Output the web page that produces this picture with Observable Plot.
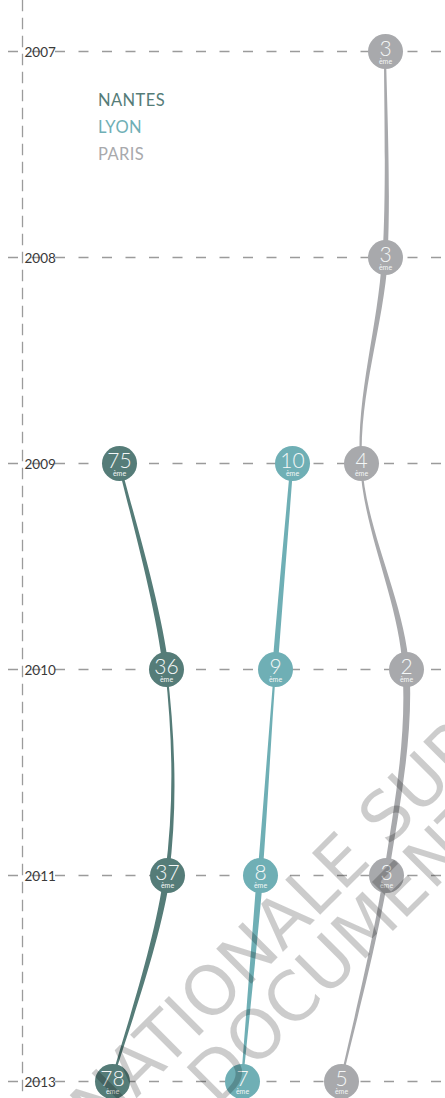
<!DOCTYPE html>
<html><head><meta charset="utf-8">
<script src="https://cdn.jsdelivr.net/npm/d3@7"></script>
<script src="https://cdn.jsdelivr.net/npm/@observablehq/plot@0.6"></script>
<style>
body{margin:0;background:#fff;}
#wrap{position:relative;width:445px;height:1098px;overflow:hidden;font-family:Lato,"Open Sans",sans-serif;}
#legend{position:absolute;left:98px;top:87px;font-size:16.5px;line-height:27px;font-weight:400;letter-spacing:0.4px;}
#wm{position:absolute;left:0;top:0;pointer-events:none;}
</style></head>
<body><div id="wrap"><div id="chart"></div><div id="legend"></div>
<svg id="wm" width="445" height="1098">
  <g font-family="DejaVu Sans, sans-serif" font-size="68" fill="rgba(0,0,0,0.2)">
    <text transform="translate(100,1135) rotate(-45)">NATIONALE SUR</text>
    <text transform="translate(217,1107) rotate(-45)">DOCUMENT</text>
  </g>
</svg>
</div>
<script>
// ---- data ----
const years = ["2007", "2008", "2009", "2010", "2011", "2013"];
const cities = ["NANTES", "LYON", "PARIS"];
const cityColors = ["#557c78", "#6fafb5", "#a8a9ac"];

const nantesYears = ["2009", "2010", "2011", "2013"];
const nantesRanks = [75, 36, 37, 78];
const nantesX = [119, 166, 167, 112];
const nantesWidths = [[2.5, 6], [2, 4], [6.5, 2]];

const lyonYears = ["2009", "2010", "2011", "2013"];
const lyonRanks = [10, 9, 8, 7];
const lyonX = [292, 275, 260, 242];
const lyonWidths = [[3, 5.5], [2, 5], [6.5, 2]];

const parisYears = ["2007", "2008", "2009", "2010", "2011", "2013"];
const parisRanks = [3, 3, 4, 2, 3, 5];
const parisX = [385, 385, 361, 406, 386, 341];
const parisWidths = [[2, 5], [6, 2], [2, 6.5], [7, 5], [5, 2]];

// ---- build tables ----
const series = [
  {city: "NANTES", years: nantesYears, ranks: nantesRanks, xs: nantesX, widths: nantesWidths},
  {city: "LYON", years: lyonYears, ranks: lyonRanks, xs: lyonX, widths: lyonWidths},
  {city: "PARIS", years: parisYears, ranks: parisRanks, xs: parisX, widths: parisWidths}
];
const colorOf = c => cityColors[cities.indexOf(c)];

// custom curve: draws only the middle span of a 4-point Catmull-Rom (uniform) spline
function spanCurve(context) {
  return {
    _line: NaN, _pts: [],
    areaStart() { this._line = 0; },
    areaEnd() { this._line = NaN; },
    lineStart() { this._pts = []; },
    point(x, y) { this._pts.push([x, y]); },
    lineEnd() {
      const p = this._pts;
      if (p.length >= 4) {
        const [p0, p1, p2, p3] = p;
        if (this._line) context.lineTo(p1[0], p1[1]); else context.moveTo(p1[0], p1[1]);
        context.bezierCurveTo(
          p1[0] + (p2[0] - p0[0]) / 6, p1[1] + (p2[1] - p0[1]) / 6,
          p2[0] - (p3[0] - p1[0]) / 6, p2[1] - (p3[1] - p1[1]) / 6,
          p2[0], p2[1]);
      }
      if (this._line === 1) context.closePath();
      this._line = 1 - this._line;
    }
  };
}

const marks = [];
marks.push(Plot.ruleY(years, {y: d => d, stroke: "#9b9b9b", strokeWidth: 1.3, strokeDasharray: "10,13.5", strokeDashoffset: 15.5, insetLeft: -22}));
marks.push(Plot.frame({anchor: "left", stroke: "#9b9b9b", strokeWidth: 1.3, strokeDasharray: "10,8"}));

for (const s of series) {
  const n = s.years.length;
  const rows = [];
  for (let i = 0; i < n - 1; i++) {
    const [w0, w1] = s.widths[i];
    const idx = [Math.max(i - 1, 0), i, i + 1, Math.min(i + 2, n - 1)];
    const ws = [w0, w0, w1, w1];
    idx.forEach((k, j) => rows.push({seg: i, year: s.years[k], xl: s.xs[k] - ws[j] / 2, xr: s.xs[k] + ws[j] / 2}));
  }
  marks.push(Plot.areaX(rows, {y: "year", x1: "xl", x2: "xr", z: "seg", fill: colorOf(s.city), curve: spanCurve}));
}
for (const s of series) {
  const pts = s.years.map((y, i) => ({year: y, rank: s.ranks[i], x: s.xs[i]}));
  marks.push(Plot.dot(pts, {x: "x", y: "year", r: 17.5, fill: colorOf(s.city)}));
  marks.push(Plot.text(pts, {x: "x", y: "year", text: d => String(d.rank), fill: "#f4f7f7", fontSize: 21, fontWeight: 300, dy: -2}));
  marks.push(Plot.text(pts, {x: "x", y: "year", text: () => "ème", fill: "#f4f7f7", fontSize: 7, dy: 10.5}));
}
marks.push(Plot.text(years, {y: d => d, frameAnchor: "left", textAnchor: "start", dx: 2, dy: 1.5, fontSize: 13.5, fill: "#3a3a3a", fontWeight: 400}));

const chart = Plot.plot({
  width: 445, height: 1098,
  marginLeft: 22, marginRight: 0, marginTop: 0, marginBottom: 0,
  x: {domain: [22, 445], axis: null},
  y: {type: "point", domain: years, range: [49.5, 1082.5], padding: 0, axis: null},
  style: {fontFamily: "Lato, 'Open Sans', sans-serif", background: "transparent", overflow: "visible"},
  marks
});
document.getElementById("chart").appendChild(chart);

const legend = document.getElementById("legend");
cities.forEach((c, i) => {
  const d = document.createElement("div");
  d.textContent = c;
  d.style.color = cityColors[i];
  legend.appendChild(d);
});
</script>
</body></html>
